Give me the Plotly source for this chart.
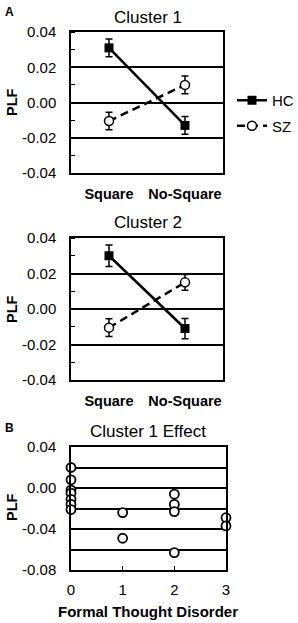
import plotly.graph_objects as go

# ---------------- data ----------------
conditions = ["Square", "No-Square"]

c1_hc = [0.031, -0.013]
c1_hc_err = [0.005, 0.005]
c1_sz = [-0.0105, 0.010]
c1_sz_err = [0.005, 0.005]

c2_hc = [0.030, -0.011]
c2_hc_err = [0.006, 0.0057]
c2_sz = [-0.0105, 0.015]
c2_sz_err = [0.005, 0.0045]

ftd = [0, 0, 0, 0, 0, 0, 0, 1, 1, 2, 2, 2, 2, 3, 3]
effect = [0.020, 0.008, -0.002, -0.005, -0.011, -0.016, -0.021,
          -0.024, -0.049,
          -0.006, -0.016, -0.023, -0.063,
          -0.029, -0.037]

yticks_ab = [-0.04, -0.02, 0.00, 0.02, 0.04]
ytick_text_ab = ["-0.04", "-0.02", "0.00", "0.02", "0.04"]
yticks_c = [-0.08, -0.04, 0.00, 0.04]
ytick_text_c = ["-0.08", "-0.04", "0.00", "0.04"]
xticks_c = [0, 1, 2, 3]

# ---------------- figure ----------------
W, H = 298, 623
FONT = "Liberation Sans, Arial, sans-serif"

def px_x(v):
    return v / W

def px_y(v):
    return 1 - v / H

fig = go.Figure()

def add_pair(hc, hc_err, sz, sz_err, xa, ya, show):
    fig.add_trace(go.Scatter(
        x=conditions, y=hc, xaxis=xa, yaxis=ya, name="HC",
        mode="lines+markers", showlegend=show, legendgroup="HC",
        line=dict(color="black", width=2.5),
        marker=dict(symbol="square", size=9, color="black"),
        error_y=dict(type="data", array=hc_err, color="black", thickness=1.5, width=3.5),
        cliponaxis=False,
    ))
    fig.add_trace(go.Scatter(
        x=conditions, y=sz, xaxis=xa, yaxis=ya, name="SZ",
        mode="lines+markers", showlegend=show, legendgroup="SZ",
        line=dict(color="black", width=2.5, dash="8px,5px"),
        marker=dict(symbol="circle", size=9, color="white",
                    line=dict(color="black", width=1.5)),
        error_y=dict(type="data", array=sz_err, color="black", thickness=1.5, width=3.5),
        cliponaxis=False,
    ))

add_pair(c1_hc, c1_hc_err, c1_sz, c1_sz_err, "x", "y", True)
add_pair(c2_hc, c2_hc_err, c2_sz, c2_sz_err, "x2", "y2", False)

fig.add_trace(go.Scatter(
    x=ftd, y=effect, xaxis="x3", yaxis="y3", mode="markers", showlegend=False,
    marker=dict(symbol="circle", size=9, color="white",
                line=dict(color="black", width=1.8)),
    cliponaxis=False,
))

frame = dict(showline=True, mirror=True, linecolor="black", linewidth=1.5,
             zeroline=False, automargin=False)

cat_x = dict(frame, type="category", range=[-0.5, 1.5], showgrid=False,
             ticks="", tickfont=dict(size=14.5, family=FONT, color="black",
                                     weight="bold"),
             ticklabelstandoff=7)

y_ab = dict(frame, range=[-0.04, 0.04], tickvals=yticks_ab, ticktext=ytick_text_ab,
            showgrid=True, gridcolor="black", gridwidth=1.5, ticks="",
            tickfont=dict(size=15, family=FONT, color="black"),
            ticklabelstandoff=10,
            minor=dict(ticks="inside", ticklen=4, tickcolor="black", tickwidth=1,
                       tick0=0, dtick=0.01, showgrid=False))

fig.update_layout(
    width=W, height=H,
    margin=dict(l=0, r=0, t=0, b=0, pad=0, autoexpand=False),
    paper_bgcolor="white", plot_bgcolor="white",
    font=dict(family=FONT, color="black"),
    xaxis=dict(cat_x, domain=[px_x(71), px_x(223)], anchor="y"),
    yaxis=dict(y_ab, domain=[px_y(173), px_y(32)], anchor="x"),
    xaxis2=dict(cat_x, domain=[px_x(71), px_x(223)], anchor="y2"),
    yaxis2=dict(y_ab, domain=[px_y(380), px_y(238)], anchor="x2"),
    xaxis3=dict(frame, domain=[px_x(71), px_x(226)], anchor="y3", range=[0, 3],
                tickvals=xticks_c, showgrid=False, ticks="inside", ticklen=4,
                tickcolor="black", tickwidth=1,
                tickfont=dict(size=15, family=FONT, color="black"),
                ticklabelstandoff=5),
    yaxis3=dict(frame, domain=[px_y(570), px_y(447)], anchor="x3",
                range=[-0.08, 0.04], tickvals=yticks_c, ticktext=ytick_text_c,
                showgrid=True, gridcolor="black", gridwidth=1.5, ticks="",
                tickfont=dict(size=15, family=FONT, color="black"),
                ticklabelstandoff=10,
                minor=dict(tick0=0, dtick=0.02, showgrid=True, gridcolor="black",
                           gridwidth=1.5, ticks="")),
    legend=dict(x=px_x(232), y=px_y(84), xanchor="left", yanchor="top",
                bgcolor="rgba(0,0,0,0)", font=dict(size=15, family=FONT, color="black"),
                tracegroupgap=3, itemwidth=30),
    showlegend=True,
)

def note(text, x, y, size, bold=False, angle=0):
    fig.add_annotation(
        text=text, x=px_x(x), y=px_y(y), xref="paper", yref="paper",
        showarrow=False, textangle=angle, xanchor="center", yanchor="middle",
        font=dict(size=size, family=FONT, color="black",
                  weight="bold" if bold else "normal"),
    )

note("A", 9, 12, 12, bold=True)
note("B", 9, 428, 12, bold=True)
note("Cluster 1", 148, 17, 17)
note("Cluster 2", 148, 222, 17)
note("Cluster 1 Effect", 148, 432, 17)
note("PLF", 12, 102, 14.5, bold=True, angle=-90)
note("PLF", 12, 309, 14.5, bold=True, angle=-90)
note("PLF", 12, 507, 14.5, bold=True, angle=-90)
note("Formal Thought Disorder", 148, 611, 15, bold=True)

fig.write_html(
    "out.html",
    config={"displayModeBar": False},
    post_script="document.body.style.margin='0';document.body.style.padding='0';",
)
